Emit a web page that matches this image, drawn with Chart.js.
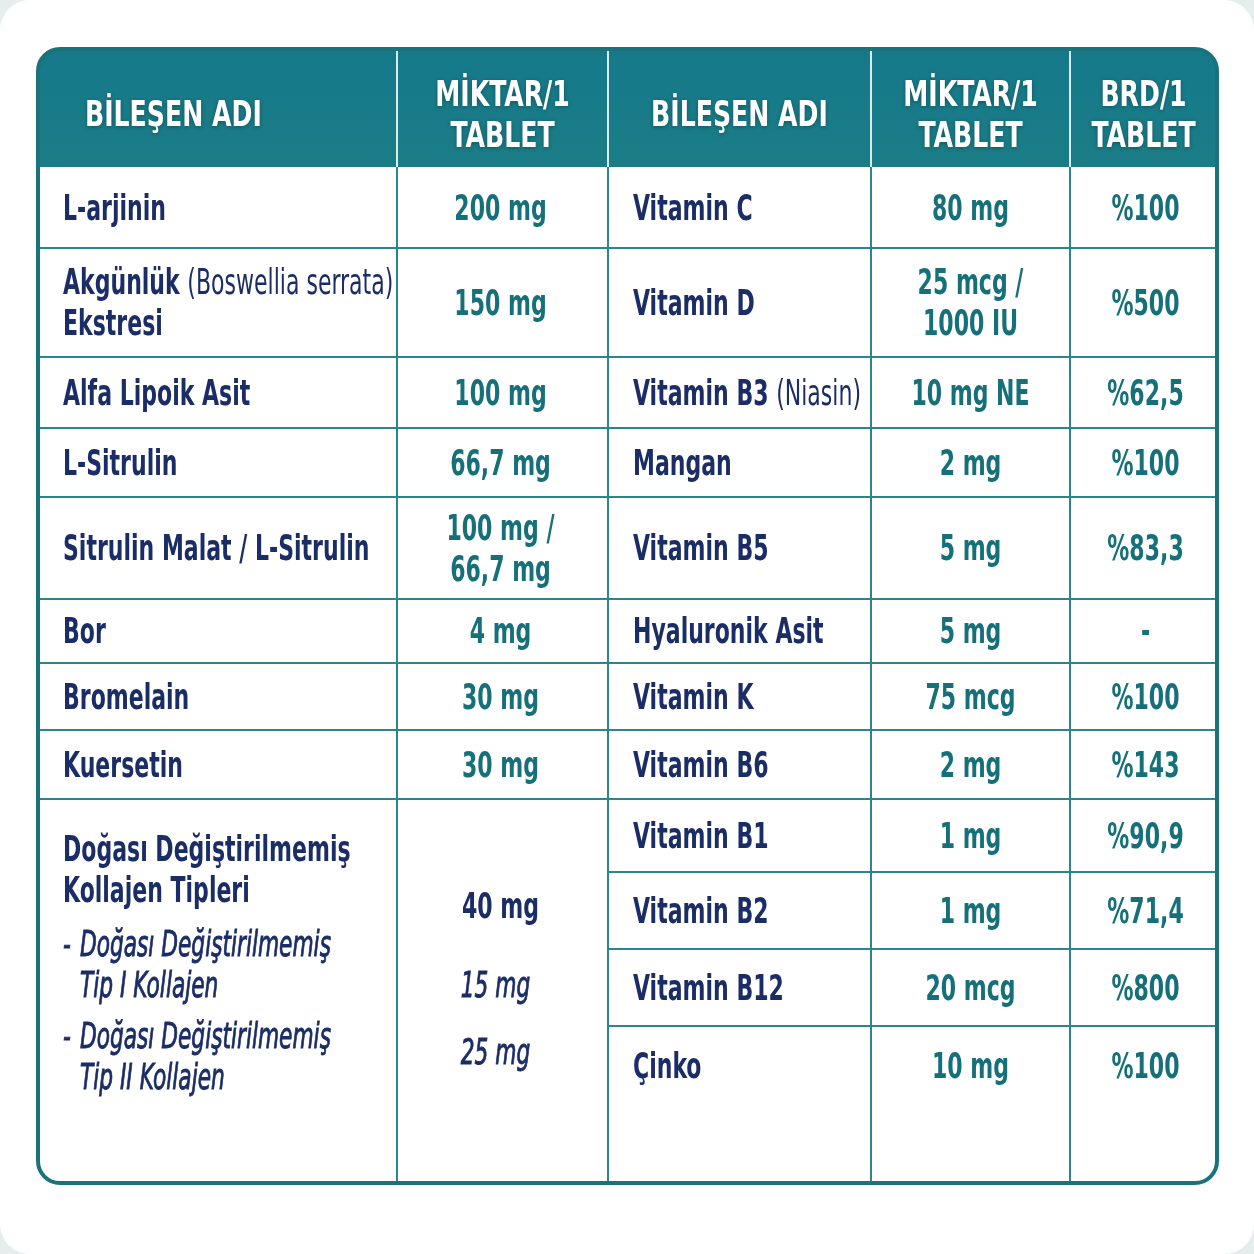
<!DOCTYPE html>
<html>
<head>
<meta charset="utf-8">
<script src="https://cdn.jsdelivr.net/npm/chart.js@4.4.1/dist/chart.umd.min.js"></script>
<style>
  html, body { margin: 0; padding: 0; background: #ffffff; }
  canvas { display: block; }
</style>
</head>
<body>
<canvas id="tbl" width="1254" height="1254"></canvas>
<script>
// table content
const headers = ['BİLEŞEN ADI', 'MİKTAR/1\nTABLET', 'BİLEŞEN ADI', 'MİKTAR/1\nTABLET', 'BRD/1\nTABLET'];

const leftNames = ['L-arjinin', 'Akgünlük (Boswellia serrata)\nEkstresi', 'Alfa Lipoik Asit', 'L-Sitrulin',
  'Sitrulin Malat / L-Sitrulin', 'Bor', 'Bromelain', 'Kuersetin'];
const leftAmounts = ['200 mg', '150 mg', '100 mg', '66,7 mg', '100 mg /\n66,7 mg', '4 mg', '30 mg', '30 mg'];

const collagenTitle = 'Doğası Değiştirilmemiş\nKollajen Tipleri';
const collagenTotal = '40 mg';
const collagenTypes = ['Doğası Değiştirilmemiş\nTip I Kollajen', 'Doğası Değiştirilmemiş\nTip II Kollajen'];
const collagenAmounts = ['15 mg', '25 mg'];

const rightNames = ['Vitamin C', 'Vitamin D', 'Vitamin B3 (Niasin)', 'Mangan', 'Vitamin B5', 'Hyaluronik Asit',
  'Vitamin K', 'Vitamin B6', 'Vitamin B1', 'Vitamin B2', 'Vitamin B12', 'Çinko'];
const rightAmounts = ['80 mg', '25 mcg /\n1000 IU', '10 mg NE', '2 mg', '5 mg', '5 mg', '75 mcg', '2 mg',
  '1 mg', '1 mg', '20 mcg', '10 mg'];
const rightBrd = ['%100', '%500', '%62,5', '%100', '%83,3', '-', '%100', '%143', '%90,9', '%71,4', '%800', '%100'];

// layout (scale units)
const colEdges = [38, 397, 608, 871, 1070, 1217];
const tableTop = 49, headerBottom = 167, tableBottom = 1183;
const leftRowEdges = [167, 248, 357, 428, 497, 599, 663, 730, 799];
const rightRowEdges = [167, 248, 357, 428, 497, 599, 663, 730, 799, 872, 949, 1026, 1106];

const FONT = '"DejaVu Sans Condensed", "Liberation Sans Narrow", sans-serif';
const NAVY = '#1b2d66';
const TEAL = '#16707a';
const LINE = 41;
const BODY = { size: 36, sx: 0.68 };

// draws one line; parts inside ( ) use regular weight; sx squeezes it horizontally
function drawRich(ctx, text, x, y, o) {
  const parts = text.split(/(\([^)]*\))/).filter(p => p.length);
  const fontOf = p => (o.italic ? 'italic ' : '') + (p.startsWith('(') || o.light ? 'normal' : 'bold') +
    ' ' + o.size + 'px ' + FONT;
  let total = 0;
  parts.forEach(p => { ctx.font = fontOf(p); total += ctx.measureText(p).width; });
  let start = o.align === 'center' ? x - total * o.sx / 2 : x;
  ctx.save();
  ctx.translate(start, y);
  ctx.scale(o.sx, 1);
  ctx.fillStyle = o.color;
  ctx.strokeStyle = o.color;
  ctx.lineWidth = o.stroke || 0;
  ctx.textBaseline = 'middle';
  ctx.textAlign = 'left';
  let cx = 0;
  parts.forEach(p => {
    ctx.font = fontOf(p);
    ctx.fillText(p, cx, 0);
    if (o.stroke) ctx.strokeText(p, cx, 0);
    cx += ctx.measureText(p).width;
  });
  ctx.restore();
}

function drawLines(ctx, text, x, yc, o) {
  const lines = text.split('\n');
  const y0 = yc - (lines.length - 1) * LINE / 2;
  lines.forEach((ln, i) => drawRich(ctx, ln, x, y0 + i * LINE, o));
}

const tablePlugin = {
  id: 'tablePlugin',
  beforeDraw(chart) {
    const ctx = chart.ctx;
    const X = chart.scales.x, Y = chart.scales.y;
    const px = v => X.getPixelForValue(v);
    const py = v => Y.getPixelForValue(v);
    ctx.save();

    // page card
    ctx.fillStyle = '#e6eded';
    ctx.fillRect(0, 0, chart.width, chart.height);
    ctx.beginPath();
    ctx.roundRect(0, 0, chart.width, chart.height, 30);
    ctx.fillStyle = '#ffffff';
    ctx.fill();

    const L = px(colEdges[0]), R = px(colEdges[5]), T = py(tableTop), B = py(tableBottom);

    // table body + header
    ctx.save();
    ctx.beginPath();
    ctx.roundRect(L, T, R - L, B - T, 22);
    ctx.clip();
    ctx.fillStyle = '#ffffff';
    ctx.fillRect(L, T, R - L, B - T);
    const g = ctx.createLinearGradient(0, T, 0, py(headerBottom));
    g.addColorStop(0, '#16798a');
    g.addColorStop(1, '#1a7d86');
    ctx.fillStyle = g;
    ctx.fillRect(L, T, R - L, py(headerBottom) - T);

    // header separators
    ctx.strokeStyle = 'rgba(235,248,248,0.9)';
    ctx.lineWidth = 2;
    for (let i = 1; i < 5; i++) {
      ctx.beginPath();
      ctx.moveTo(px(colEdges[i]), T);
      ctx.lineTo(px(colEdges[i]), py(headerBottom));
      ctx.stroke();
    }

    // body grid
    ctx.strokeStyle = '#2a858d';
    ctx.lineWidth = 2;
    for (let i = 1; i < 5; i++) {
      ctx.beginPath();
      ctx.moveTo(px(colEdges[i]), py(headerBottom));
      ctx.lineTo(px(colEdges[i]), B);
      ctx.stroke();
    }
    leftRowEdges.slice(1).forEach(e => {
      ctx.beginPath();
      ctx.moveTo(L, py(e));
      ctx.lineTo(px(colEdges[2]), py(e));
      ctx.stroke();
    });
    rightRowEdges.slice(1, -1).forEach(e => {
      ctx.beginPath();
      ctx.moveTo(px(colEdges[2]), py(e));
      ctx.lineTo(R, py(e));
      ctx.stroke();
    });
    ctx.restore();

    // outer border
    ctx.beginPath();
    ctx.roundRect(L, T, R - L, B - T, 22);
    ctx.strokeStyle = '#1a737b';
    ctx.lineWidth = 4;
    ctx.stroke();

    // header text
    ctx.save();
    ctx.shadowColor = 'rgba(0,0,0,0.3)';
    ctx.shadowBlur = 4;
    ctx.shadowOffsetY = 1;
    const hy = (py(tableTop) + py(headerBottom)) / 2 + 9;
    headers.forEach((h, i) => {
      const left = i === 0;
      const cx = left ? px(colEdges[0]) + 47 : (px(colEdges[i]) + px(colEdges[i + 1])) / 2;
      drawLines(ctx, h, cx, hy, { size: 35, sx: 0.8, color: '#ffffff', align: left ? 'left' : 'center' });
    });
    ctx.restore();

    const body = (color, align, extra) => Object.assign({ size: BODY.size, sx: BODY.sx, color, align }, extra || {});

    // left side rows
    const nameX = px(colEdges[0]) + 25;
    const amtX = (px(colEdges[1]) + px(colEdges[2])) / 2 - 2;
    leftNames.forEach((n, i) => {
      const yc = (py(leftRowEdges[i]) + py(leftRowEdges[i + 1])) / 2 + 3;
      drawLines(ctx, n, nameX, yc, body(NAVY, 'left'));
      drawLines(ctx, leftAmounts[i], amtX, yc, body(TEAL, 'center'));
    });

    // collagen block
    const cTop = py(leftRowEdges[leftRowEdges.length - 1]);
    drawLines(ctx, collagenTitle, nameX, cTop + 73, body(NAVY, 'left'));
    drawLines(ctx, collagenTotal, amtX, cTop + 110, body(NAVY, 'center'));
    const ital = a => ({ size: 36, sx: 0.67, color: NAVY, align: a, italic: true, light: true, stroke: 0.9 });
    collagenTypes.forEach((t, k) => {
      const yc = cTop + 168 + k * 92;
      const lines = t.split('\n');
      drawRich(ctx, '-', nameX, yc - LINE / 2, ital('left'));
      lines.forEach((ln, j) => drawRich(ctx, ln, nameX + 17, yc - LINE / 2 + j * LINE, ital('left')));
      drawRich(ctx, collagenAmounts[k], amtX - 5, k === 0 ? cTop + 189 : cTop + 256, ital('center'));
    });

    // right side rows
    const rNameX = px(colEdges[2]) + 25;
    const rAmtX = (px(colEdges[3]) + px(colEdges[4])) / 2;
    const rBrdX = (px(colEdges[4]) + px(colEdges[5])) / 2 + 2;
    rightNames.forEach((n, i) => {
      const yc = (py(rightRowEdges[i]) + py(rightRowEdges[i + 1])) / 2 + 3;
      drawLines(ctx, n, rNameX, yc, body(NAVY, 'left'));
      drawLines(ctx, rightAmounts[i], rAmtX, yc, body(TEAL, 'center'));
      drawLines(ctx, rightBrd[i], rBrdX, yc, body(TEAL, 'center'));
    });

    ctx.restore();
  }
};

new Chart(document.getElementById('tbl'), {
  type: 'scatter',
  data: { datasets: [{ data: [], pointRadius: 0 }] },
  options: {
    responsive: false,
    animation: false,
    devicePixelRatio: 1,
    layout: { padding: 0 },
    plugins: { legend: { display: false }, tooltip: { enabled: false } },
    scales: {
      x: { type: 'linear', min: 0, max: 1254, display: false },
      y: { type: 'linear', min: 0, max: 1254, reverse: true, display: false }
    }
  },
  plugins: [tablePlugin]
});
</script>
</body>
</html>
